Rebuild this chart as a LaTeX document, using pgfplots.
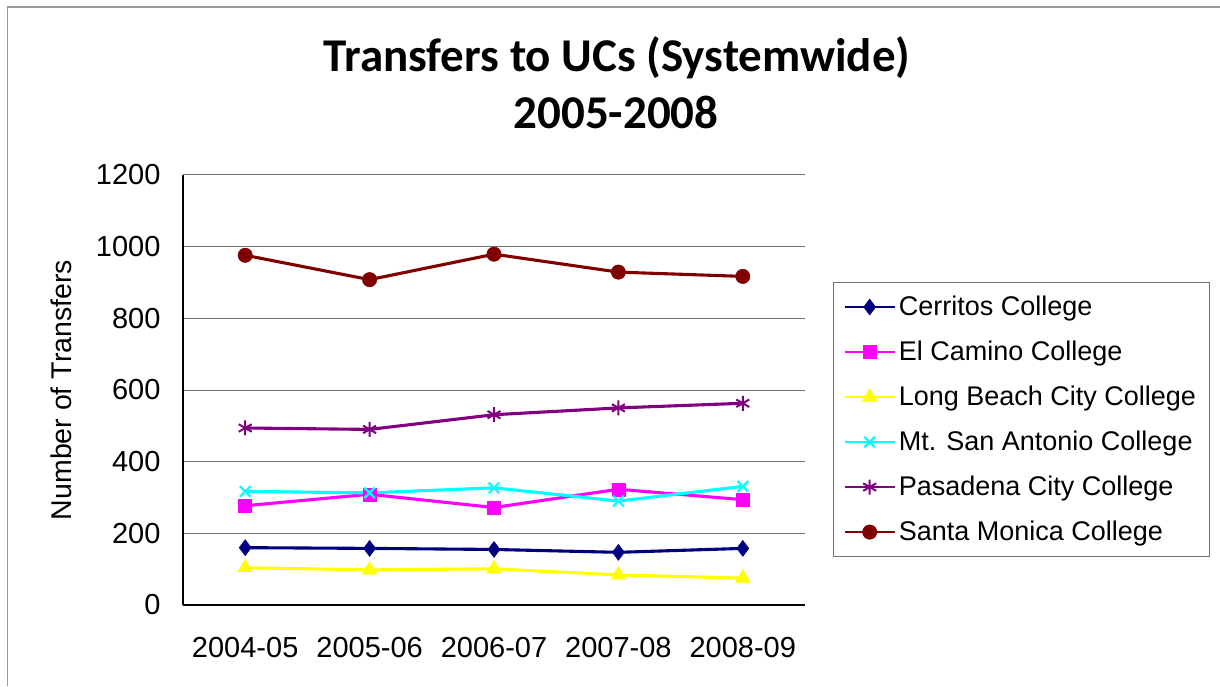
\documentclass[border=0pt]{standalone}
\usepackage{pgfplots}
\pgfplotsset{compat=1.18}
\usepackage{fontspec}
\setmainfont{Liberation Sans}
\newfontfamily\titlefont{Carlito}
\definecolor{cNavy}{RGB}{0,0,128}
\definecolor{cMag}{RGB}{255,0,255}
\definecolor{cYel}{RGB}{255,255,0}
\definecolor{cCyan}{RGB}{0,255,255}
\definecolor{cPurp}{RGB}{128,0,128}
\definecolor{cDRed}{RGB}{128,0,0}
\begin{document}
\begin{tikzpicture}
\useasboundingbox (0pt,0pt) rectangle (1220pt,686pt);
\draw[gray!80,line width=1.2pt] (7.5pt,0pt) -- (7.5pt,679pt) -- (1220pt,679pt);
\node[font=\titlefont\bfseries\fontsize{47}{50}\selectfont] at (617pt,628pt) {Transfers to UCs (Systemwide)};
\node[font=\titlefont\bfseries\fontsize{47}{50}\selectfont] at (616pt,574pt) {2005-2008};
\begin{axis}[
  at={(183pt,81pt)}, anchor=south west,
  scale only axis, width=622pt, height=430pt,
  xmin=-0.5, xmax=4.5, ymin=0, ymax=1200,
  xtick={0,1,2,3,4},
  xticklabels={2004-05,2005-06,2006-07,2007-08,2008-09},
  ytick={0,200,400,600,800,1000,1200},
  /pgf/number format/assume math mode=true,
  /pgf/number format/1000 sep={},
  axis x line*=bottom, axis y line*=left,
  axis line style={-, black, line width=1.2pt},
  major tick length=0pt,
  ymajorgrids, grid style={gray!90!black, line width=1pt},
  tick label style={font=\fontsize{29}{32}\selectfont},
  yticklabel style={xshift=-19pt},
  xticklabel style={yshift=-29pt},
  ylabel={Number of Transfers},
  every axis y label/.style={at={(axis description cs:-0.196,0.5)}, rotate=90, anchor=center, font=\fontsize{28.5}{32}\selectfont},
  legend style={at={(1.045,0.751)}, anchor=north west, draw=gray!90!black, line width=1pt,
    font=\fontsize{27}{32}\selectfont, row sep=10pt, inner xsep=10pt, inner ysep=7pt,
    nodes={text height=23pt, text depth=6pt, inner sep=3pt}},
  legend cell align=left,
  legend image code/.code={\draw[line width=2.4pt,mark repeat=2,mark phase=2] plot coordinates {(0pt,0pt)(25pt,0pt)(50pt,0pt)};},
  every axis plot/.append style={line width=3.1pt},
]
\addplot[cNavy, mark=diamond*, mark size=8pt, mark options={solid,line width=0.5pt}] coordinates {(0,160)(1,158)(2,155)(3,147)(4,158)};
\addlegendentry{Cerritos College}
\addplot[cMag, mark=square*, mark size=6.5pt, mark options={solid,line width=0.5pt}] coordinates {(0,277)(1,309)(2,272)(3,323)(4,294)};
\addlegendentry{El Camino College}
\addplot[cYel, mark=triangle*, mark size=8.5pt, mark options={solid,line width=0.5pt}] coordinates {(0,104)(1,98)(2,101)(3,84)(4,75)};
\addlegendentry{Long Beach City College}
\addplot[cCyan, mark=x, mark size=7.5pt, mark options={solid,line width=2.2pt}] coordinates {(0,317)(1,313)(2,327)(3,290)(4,331)};
\addlegendentry{Mt. San Antonio College}
\addplot[cPurp, mark=asterisk, mark size=7.5pt, mark options={solid,line width=2pt}] coordinates {(0,494)(1,490)(2,531)(3,550)(4,563)};
\addlegendentry{Pasadena City College}
\addplot[cDRed, mark=*, mark size=7.2pt, mark options={solid,line width=0.5pt}] coordinates {(0,976)(1,908)(2,979)(3,929)(4,917)};
\addlegendentry{Santa Monica College}
\end{axis}
\end{tikzpicture}
\end{document}
